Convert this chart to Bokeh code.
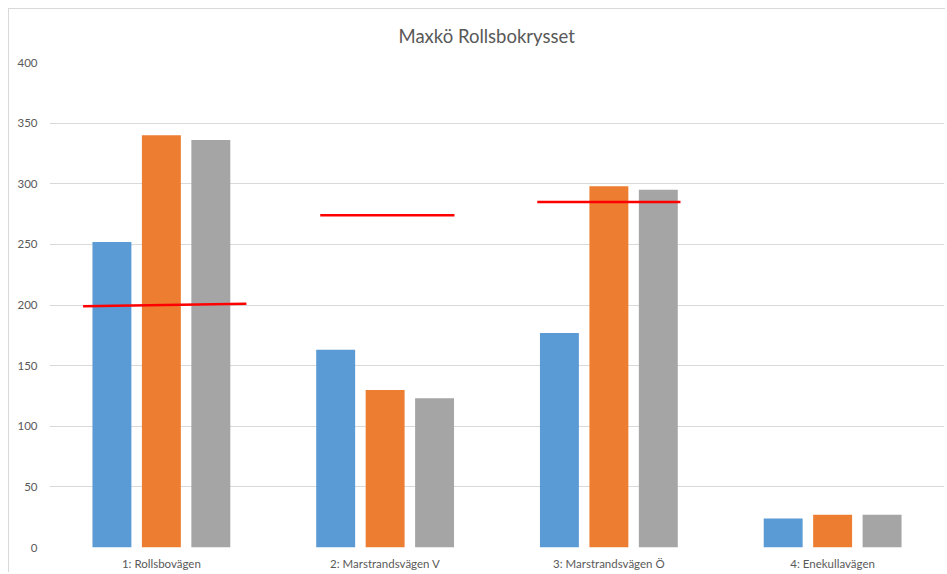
from bokeh.plotting import figure
from bokeh.models import ColumnDataSource, FactorRange, Range1d, FixedTicker
from bokeh.transform import dodge
from bokeh.embed import file_html
from bokeh.resources import INLINE

# ---- data ----
categories = ["1: Rollsbovägen", "2: Marstrandsvägen V", "3: Marstrandsvägen Ö", "4: Enekullavägen"]
series_a = [252, 163, 177, 24]   # blue
series_b = [340, 130, 298, 27]   # orange
series_c = [336, 123, 295, 27]   # gray
y_ticks = [0, 50, 100, 150, 200, 250, 300, 350, 400]

# red reference lines (capacity levels)
ref_categories = ["1: Rollsbovägen", "2: Marstrandsvägen V", "3: Marstrandsvägen Ö"]
ref_start = [199, 274, 285]
ref_end = [201, 274, 285]
ref_left_offset = [-0.35, -0.29, -0.32]
ref_right_offset = [0.38, 0.31, 0.32]

title_text = "Maxkö Rollsbokrysset"

FONT = "Lato"
TEXT = "#595959"
GRID = "#D9D9D9"

src = ColumnDataSource(dict(cat=categories, a=series_a, b=series_b, c=series_c))

p = figure(x_range=FactorRange(*categories), y_range=Range1d(0, 400),
           width=937, height=564, output_backend="svg", toolbar_location=None,
           min_border_left=40, min_border_right=2, min_border_top=53, min_border_bottom=26,
           title=title_text)
p.margin = (8, 0, 0, 8)
p.styles = {"border-left": "1px solid #D9D9D9", "border-top": "1px solid #D9D9D9"}

p.title.align = "left"
p.title.offset = 349
p.title.vertical_align = "top"
p.title.text_font = FONT
p.title.text_font_size = "18.5px"
p.title.text_font_style = "normal"
p.title.text_color = TEXT
p.title.standoff = 28

bw = 0.174
off = 0.221
p.vbar(x=dodge("cat", -off, range=p.x_range), top="a", width=bw, source=src,
       fill_color="#5B9BD5", line_color=None)
p.vbar(x=dodge("cat", 0.0, range=p.x_range), top="b", width=bw, source=src,
       fill_color="#ED7D31", line_color=None)
p.vbar(x=dodge("cat", off, range=p.x_range), top="c", width=bw, source=src,
       fill_color="#A5A5A5", line_color=None)

ref_src = ColumnDataSource(dict(
    x0=[(c, o) for c, o in zip(ref_categories, ref_left_offset)],
    x1=[(c, o) for c, o in zip(ref_categories, ref_right_offset)],
    y0=ref_start, y1=ref_end))
p.segment(x0="x0", y0="y0", x1="x1", y1="y1", source=ref_src,
          line_color="#FF0000", line_width=2.5)

p.yaxis.ticker = FixedTicker(ticks=y_ticks)
p.ygrid.ticker = FixedTicker(ticks=y_ticks)
p.ygrid.grid_line_color = GRID
p.ygrid.grid_line_width = 1
p.xgrid.grid_line_color = None
p.outline_line_color = None

for ax in (p.xaxis, p.yaxis):
    ax.axis_line_color = None
    ax.major_tick_line_color = None
    ax.minor_tick_line_color = None
    ax.major_tick_out = 0
    ax.major_tick_in = 0
    ax.major_label_text_font = FONT
    ax.major_label_text_font_size = "11.5px"
    ax.major_label_text_color = TEXT
p.yaxis.major_label_standoff = 12
p.xaxis.major_label_standoff = 9

open("out.html", "w").write(file_html(p, INLINE))
